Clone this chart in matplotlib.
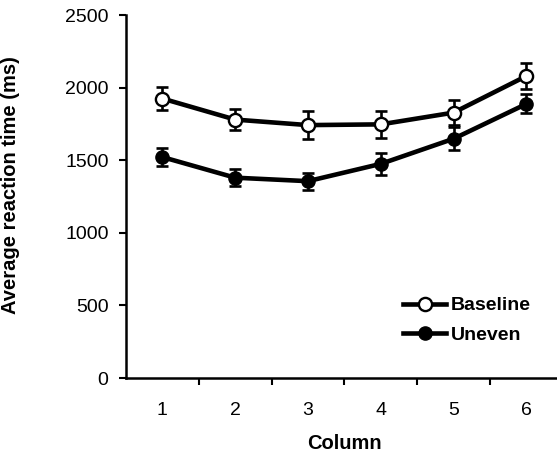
import matplotlib.pyplot as plt

plt.rcParams['font.family'] = ['Liberation Sans', 'DejaVu Sans']

# Médias e erros
colunas = [1, 2, 3, 4, 5, 6]
baseline = [1925, 1780, 1742, 1747, 1828, 2080]
baseline_err = [78, 72, 95, 95, 88, 88]
uneven = [1522, 1380, 1356, 1475, 1648, 1888]
uneven_err = [63, 58, 58, 75, 78, 65]

fig = plt.figure(figsize=(5.57, 4.55), dpi=100)
ax = fig.add_axes([0.226, 0.169, 0.774, 0.798])

# barras de erro por baixo dos marcadores
ax.errorbar(colunas, uneven, yerr=uneven_err, fmt='none', ecolor='black',
            elinewidth=1.9, capsize=4, capthick=1.9, zorder=1)
ax.errorbar(colunas, baseline, yerr=baseline_err, fmt='none', ecolor='black',
            elinewidth=1.9, capsize=4, capthick=1.9, zorder=1)

ax.plot(colunas, uneven, color='black', lw=3.3, marker='o', ms=9.5,
        mfc='black', mec='black', label='Uneven', zorder=3)
ax.plot(colunas, baseline, color='black', lw=3.3, marker='o', ms=9.5,
        mfc='white', mec='black', mew=1.7, label='Baseline', zorder=4)

ax.set_xlim(0.5, 6.42)
ax.set_ylim(0, 2500)
ax.set_yticks([0, 500, 1000, 1500, 2000, 2500])
ax.set_xticks([1.5, 2.5, 3.5, 4.5, 5.5])
ax.set_xticklabels([])
ax.set_xticks(colunas, minor=True)
ax.set_xticklabels([str(c) for c in colunas], minor=True)
ax.tick_params(axis='x', which='minor', length=0, pad=17, labelsize=14)
ax.tick_params(axis='x', which='major', direction='out', length=5, width=1.5)
ax.tick_params(axis='y', direction='out', length=5, width=1.5, labelsize=14, pad=7.5)

for s in ['top', 'right']:
    ax.spines[s].set_visible(False)
for s in ['left', 'bottom']:
    ax.spines[s].set_linewidth(1.8)

ax.set_xlabel('Column', fontsize=14.5, fontweight='bold')
ax.set_ylabel('Average reaction time (ms)', fontsize=14.5, fontweight='bold')
ax.xaxis.set_label_coords(0.506, -0.155)
ax.yaxis.set_label_coords(-0.246, 0.532)

handles, labels = ax.get_legend_handles_labels()
leg = ax.legend(handles[::-1], labels[::-1], loc='lower left', frameon=False,
                prop={'weight': 'bold', 'size': 14}, handlelength=2.2,
                handletextpad=0.25, labelspacing=0.6, borderpad=0,
                bbox_to_anchor=(0.621, 0.068))

fig.savefig('out.png', dpi=100)
